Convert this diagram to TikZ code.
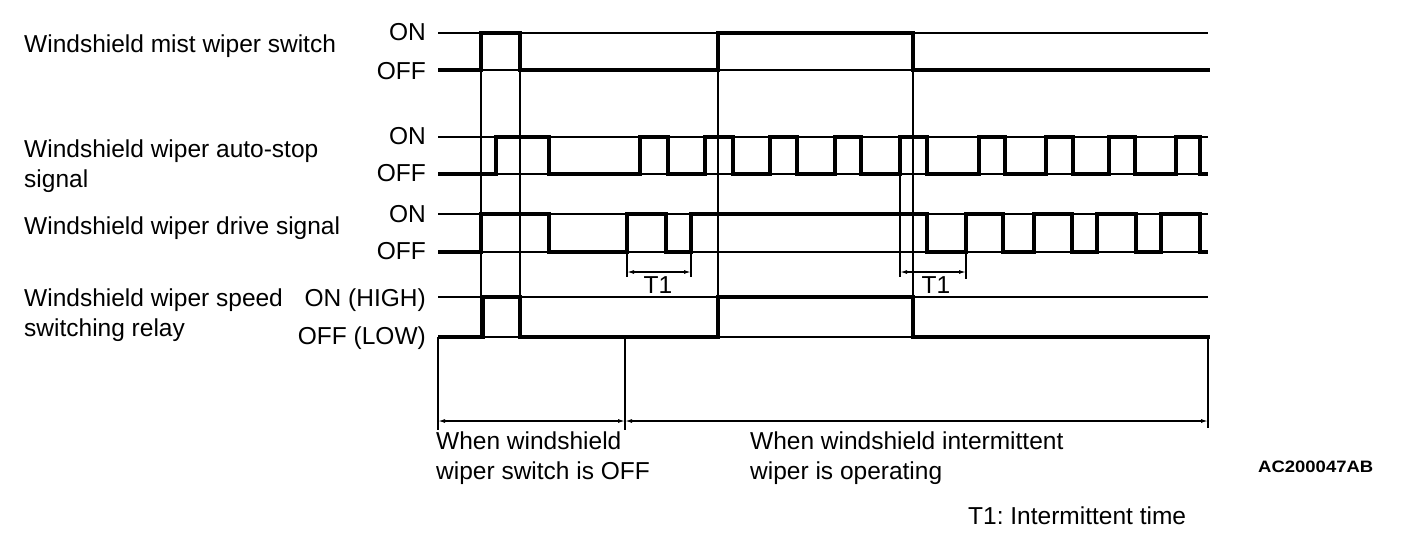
\documentclass[tikz,border=0pt]{standalone}
\usepackage{fontspec}
\setmainfont{Liberation Sans}
\usetikzlibrary{arrows.meta}
\frenchspacing
\begin{document}
\begin{tikzpicture}[x=1pt,y=-1pt,
  lbl/.style={anchor=base west,inner sep=0pt,font=\fontsize{24.5}{30}\selectfont},
  lvl/.style={anchor=base east,inner sep=0pt,font=\fontsize{24.5}{30}\selectfont},
  ref/.style={line width=1.6pt},
  sig/.style={line width=4.5pt,line join=miter,line cap=butt},
  guide/.style={line width=1.5pt},
  dim/.style={line width=1.3pt,{Latex[length=7pt,width=4pt]}-{Latex[length=7pt,width=4pt]}}]
\useasboundingbox (0,0) rectangle (1408,538);
% left labels
\node[lbl] (l1) at (24,52) {Windshield mist wiper switch};
\node[lbl] (l2) at (24,157) {Windshield wiper auto-stop};
\node[lbl] (l2b) at (24,187) {signal};
\node[lbl] (l3) at (24,234) {Windshield wiper drive signal};
\node[lbl] (l4) at (24,306) {Windshield wiper speed};
\node[lbl] (l4b) at (24,336) {switching relay};
% level labels
\node[lvl] (on1) at (426,40) {ON};
\node[lvl] (off1) at (426,79) {OFF};
\node[lvl] (on2) at (426,144) {ON};
\node[lvl] (off2) at (426,181) {OFF};
\node[lvl] (on3) at (426,222) {ON};
\node[lvl] (off3) at (426,259) {OFF};
\node[lvl] (on4) at (426,306) {ON (HIGH)};
\node[lvl] (off4) at (426,344) {OFF (LOW)};
% reference lines
\foreach \y in {33,70,137,174,214,252,297,337}
  \draw[ref] (438,\y) -- (1208,\y);
% guide lines
\draw[guide] (481,33) -- (481,337);
\draw[guide] (520,33) -- (520,337);
\draw[guide] (718,33) -- (718,337);
\draw[guide] (913,33) -- (913,337);
\draw[guide] (900,137) -- (900,277);
\draw[guide] (627,252) -- (627,277);
\draw[guide] (691,252) -- (691,277);
\draw[guide] (966,252) -- (966,279);
\draw[guide] (438,337) -- (438,430);
\draw[guide] (625,337) -- (625,430);
\draw[guide] (1208,337) -- (1208,428);
% mist wiper switch
\draw[sig] (438,70) -- (481,70) |- (520,33) |- (718,70) |- (913,33) |- (1210,70);
% auto-stop signal
\draw[sig] (438,174) -- (496,174) |- (549,137) |- (640,174) |- (668,137) |- (705,174)
  |- (733,137) |- (770,174) |- (797,137) |- (835,174) |- (861,137) |- (900,174)
  |- (927,137) |- (979,174) |- (1005,137) |- (1046,174) |- (1073,137) |- (1109,174)
  |- (1135,137) |- (1176,174) |- (1200,137) |- (1208,174);
% drive signal
\draw[sig] (438,252) -- (481,252) |- (549,214) |- (627,252) |- (666,214) |- (691,252)
  |- (927,214) |- (966,252) |- (1003,214) |- (1034,252) |- (1072,214) |- (1097,252)
  |- (1136,214) |- (1161,252) |- (1200,214) |- (1208,252);
% speed switching relay
\draw[sig] (438,337) -- (483,337) |- (520,297) |- (718,337) |- (913,297) |- (1210,337);
% T1 dimensions
\draw[dim] (627,272) -- (691,272);
\draw[dim] (900,272) -- (966,272);
\node[anchor=base,inner sep=0pt,font=\fontsize{24.5}{30}\selectfont] (t1a) at (658,293) {T1};
\node[anchor=base,inner sep=0pt,font=\fontsize{24.5}{30}\selectfont] (t1b) at (936,293) {T1};
% bottom dimensions
\draw[dim] (438,421) -- (625,421);
\draw[dim] (625,421) -- (1208,421);
\node[lbl] (b1) at (436,449) {When windshield};
\node[lbl] (b1b) at (436,479) {wiper switch is OFF};
\node[lbl] (b2) at (750,449) {When windshield intermittent};
\node[lbl] (b2b) at (750,479) {wiper is operating};
\node[anchor=base west,inner sep=0pt,font=\fontsize{16.5}{18}\selectfont\bfseries] (code) at (1258,472) {\scalebox{1.12}[1]{AC200047AB}};
\node[lbl] (note) at (968,524) {T1: Intermittent time};
\end{tikzpicture}
\end{document}
